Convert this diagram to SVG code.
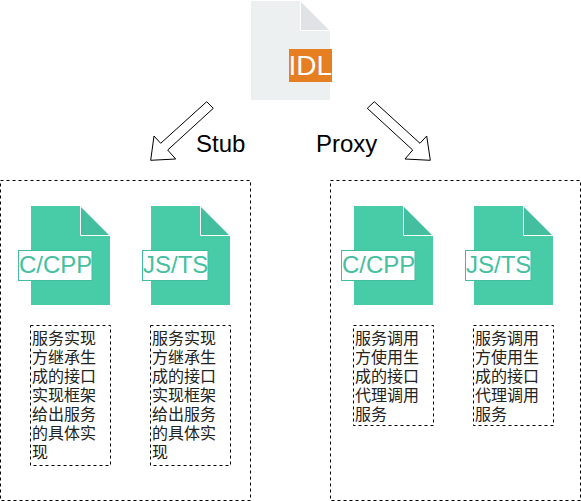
<svg xmlns="http://www.w3.org/2000/svg" width="581" height="501" viewBox="0 0 581 501">
<style>
.dash{fill:none;stroke:#000;stroke-width:1;stroke-dasharray:3 3}
.arrow{fill:#fff;stroke:#000;stroke-width:1;stroke-linejoin:miter}
.label{font-family:"Liberation Sans",Arial,sans-serif;font-size:24px;fill:#000}
.tag{font-family:"Liberation Sans",Arial,sans-serif;font-size:24px;fill:#45bf9f}
.tagbox{fill:#fff;stroke:#42bd9e;stroke-width:1}
.page{fill:#48cca8}
.fold{fill:#43bf9f;stroke:#fff;stroke-width:1}
.desc{font-family:"Noto Sans CJK SC","Liberation Sans",sans-serif;font-size:16px;fill:#222}
</style>
<defs>
<g id="doc">
<path class="page" d="M0 0H50V29H79V99H0Z"/>
<path class="fold" d="M49.500 0V29.500H79Z"/>
</g>
</defs>
<g id="stub-box"><rect class="dash" x="0.500" y="180.500" width="250" height="320"/></g>
<g id="proxy-box"><rect class="dash" x="330.500" y="180.500" width="250" height="320"/></g>
<g id="idl">
<path fill="#ecf0f1" d="M251 1H301V30H330V100H251Z"/>
<path fill="#e0e3e5" stroke="#fff" d="M300.500 1V30.500H330Z"/>
<rect fill="#e67e22" x="289" y="49" width="43" height="33"/>
<text x="288.500" y="75" font-family="'Liberation Sans',Arial,sans-serif" font-size="28" fill="#fff">IDL</text>
</g>
<g id="connectors">
<path id="arrow-stub" class="arrow" d="M206.700 101.700L213.300 108.300L167.700 150L175.700 159L150.700 160.300L154 136L160.700 143.300Z"/>
<path id="arrow-proxy" class="arrow" d="M374.300 101.700L367.300 108.300L412.700 150L405 159L430.300 160.300L426.700 136L420 143.300Z"/>
</g>
<g id="stub-label"><text class="label" x="196" y="152">Stub</text></g>
<g id="proxy-label"><text class="label" x="316" y="152">Proxy</text></g>
<g id="stub-cpp">
<use href="#doc" x="31" y="206"/>
<rect class="tagbox" x="18.500" y="250.500" width="73.500" height="30"/>
<text class="tag" x="19" y="273">C/CPP</text>
</g>
<g id="stub-js">
<use href="#doc" x="151" y="206"/>
<rect class="tagbox" x="142.500" y="250.500" width="65.500" height="30"/>
<text class="tag" x="143" y="273">JS/TS</text>
</g>
<g id="proxy-cpp">
<use href="#doc" x="354" y="206"/>
<rect class="tagbox" x="341.500" y="250.500" width="73.500" height="30"/>
<text class="tag" x="342" y="273">C/CPP</text>
</g>
<g id="proxy-js">
<use href="#doc" x="474" y="206"/>
<rect class="tagbox" x="465.500" y="250.500" width="65.500" height="30"/>
<text class="tag" x="466" y="273">JS/TS</text>
</g>
<g id="stub-cpp-desc">
<rect class="dash" x="30.500" y="325.500" width="80" height="140"/>
<text class="desc" x="32"><tspan x="32" y="344">服务实现</tspan><tspan x="32" y="363">方继承生</tspan><tspan x="32" y="382">成的接口</tspan><tspan x="32" y="401">实现框架</tspan><tspan x="32" y="420">给出服务</tspan><tspan x="32" y="439">的具体实</tspan><tspan x="32" y="458">现</tspan></text>
</g>
<g id="stub-js-desc">
<rect class="dash" x="150.500" y="325.500" width="80" height="140"/>
<text class="desc" x="152"><tspan x="152" y="344">服务实现</tspan><tspan x="152" y="363">方继承生</tspan><tspan x="152" y="382">成的接口</tspan><tspan x="152" y="401">实现框架</tspan><tspan x="152" y="420">给出服务</tspan><tspan x="152" y="439">的具体实</tspan><tspan x="152" y="458">现</tspan></text>
</g>
<g id="proxy-cpp-desc">
<rect class="dash" x="353.500" y="325.500" width="80" height="100"/>
<text class="desc" x="355"><tspan x="355" y="344">服务调用</tspan><tspan x="355" y="363">方使用生</tspan><tspan x="355" y="382">成的接口</tspan><tspan x="355" y="401">代理调用</tspan><tspan x="355" y="420">服务</tspan></text>
</g>
<g id="proxy-js-desc">
<rect class="dash" x="473.500" y="325.500" width="80" height="100"/>
<text class="desc" x="475"><tspan x="475" y="344">服务调用</tspan><tspan x="475" y="363">方使用生</tspan><tspan x="475" y="382">成的接口</tspan><tspan x="475" y="401">代理调用</tspan><tspan x="475" y="420">服务</tspan></text>
</g>
</svg>
